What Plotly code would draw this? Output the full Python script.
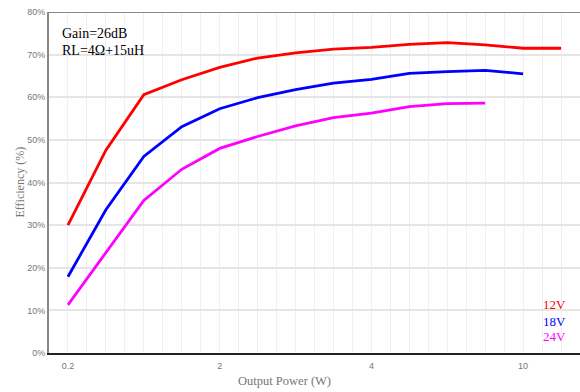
import plotly.graph_objects as go

categories = ["0.2", "0.5", "1", "1.5", "2", "2.5", "3", "3.5", "4", "5", "6", "8", "10", "12"]
tick_labels = ["0.2", "2", "4", "10"]

series_names = ["12V", "18V", "24V"]
eff_12v = [30.0, 47.6, 60.6, 64.1, 67.0, 69.2, 70.4, 71.3, 71.7, 72.4, 72.8, 72.3, 71.5, 71.5]
eff_18v = [17.9, 33.6, 46.1, 53.1, 57.3, 59.9, 61.8, 63.3, 64.2, 65.6, 66.0, 66.3, 65.5]
eff_24v = [11.3, 23.5, 35.8, 43.1, 48.0, 50.8, 53.3, 55.2, 56.3, 57.8, 58.5, 58.6]
y_ticks = [0, 10, 20, 30, 40, 50, 60, 70, 80]

colors = ["#ff0000", "#0000ff", "#ff00ff"]
serif = "Liberation Serif, Times New Roman, serif"
sans = "Liberation Sans, Arial, sans-serif"

fig = go.Figure()
for name, vals, c in zip(series_names, [eff_12v, eff_18v, eff_24v], colors):
    fig.add_trace(go.Scatter(
        x=list(range(len(vals))), y=vals, mode="lines", name=name,
        line=dict(color=c, width=2.8), showlegend=False,
    ))

idx = [categories.index(t) for t in tick_labels]

fig.update_layout(
    width=580, height=392,
    margin=dict(l=49, r=0, t=12, b=39),
    paper_bgcolor="white", plot_bgcolor="white",
    xaxis=dict(
        range=[-0.5, len(categories) - 0.5],
        tickmode="array", tickvals=idx, ticktext=tick_labels,
        showgrid=True, gridcolor="#f0f0f0", gridwidth=1,
        minor=dict(tick0=0, dtick=0.5, showgrid=True, gridcolor="#f0f0f0", gridwidth=1),
        showline=True, linecolor="#222222", linewidth=2,
        ticks="", zeroline=False, ticklabelstandoff=3,
        tickfont=dict(family=sans, size=9, color="#777777"),
    ),
    yaxis=dict(
        range=[0, 80],
        tickmode="array", tickvals=y_ticks, ticktext=[f"{v}%" for v in y_ticks],
        showgrid=True, gridcolor="#e6e6e6", gridwidth=1.5,
        showline=True, linecolor="#888888", linewidth=2,
        ticks="", zeroline=False,
        tickfont=dict(family=sans, size=9, color="#777777"),
    ),
    shapes=[
        dict(type="rect", xref="x", yref="y", x0=-0.5, x1=2.1, y0=66.9, y1=80,
             fillcolor="white", line=dict(width=0), layer="below"),
        dict(type="line", xref="paper", yref="y", x0=0, x1=1, y0=80, y1=80,
             line=dict(color="#888888", width=2)),
    ],
)

annotations = [
    dict(text="Gain=26dB", xref="paper", yref="paper", x=11 / 531, y=1 - 22 / 341,
         xanchor="left", yanchor="middle", showarrow=False,
         font=dict(family=serif, size=14, color="black")),
    dict(text="RL=4Ω+15uH", xref="paper", yref="paper", x=11 / 531, y=1 - 38 / 341,
         xanchor="left", yanchor="middle", showarrow=False,
         font=dict(family=serif, size=14, color="black")),
    dict(text="Output Power (W)", xref="paper", yref="paper", x=(284.5 - 49) / 531, y=0,
         yshift=-28, xanchor="center", yanchor="middle", showarrow=False,
         font=dict(family=serif, size=12.5, color="#777777")),
    dict(text="Efficiency (%)", xref="paper", yref="paper", x=0, xshift=-30, y=0.5,
         xanchor="center", yanchor="middle", showarrow=False, textangle=-90,
         font=dict(family=serif, size=12, color="#777777")),
]
legend_y = [304, 321, 336]
for name, c, py in zip(series_names, colors, legend_y):
    annotations.append(dict(
        text=name, xref="paper", yref="paper", x=(568 - 49) / 531, y=(353 - py) / 341,
        xanchor="right", yanchor="middle", showarrow=False,
        font=dict(family=serif, size=13, color=c)))
fig.update_layout(annotations=annotations)

fig.write_html("out.html")
